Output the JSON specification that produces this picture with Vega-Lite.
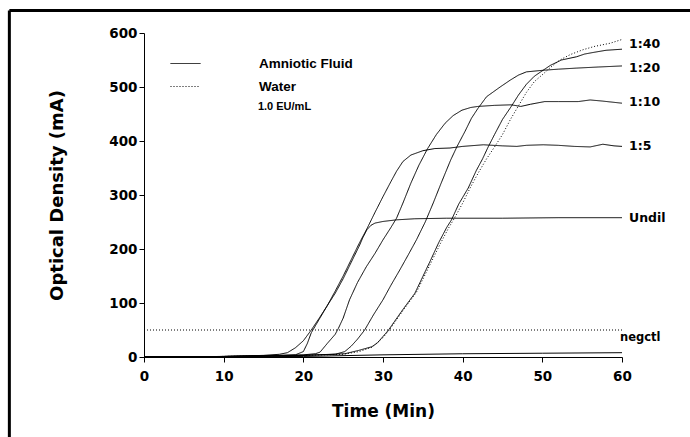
{
  "$schema": "https://vega.github.io/schema/vega-lite/v6.json",
  "width": 478,
  "height": 324,
  "autosize": {"type": "none"},
  "padding": {"left": 144, "top": 33, "right": 68, "bottom": 80},
  "background": "white",
  "config": {
    "view": {"stroke": null},
    "axis": {
      "domainColor": "black",
      "domainWidth": 1,
      "tickColor": "black",
      "tickWidth": 1,
      "labelColor": "black",
      "labelFont": "DejaVu Sans",
      "labelFontWeight": "bold",
      "labelFontSize": 13.5,
      "labelFlush": false,
      "labelOverlap": false,
      "titleColor": "black",
      "titleFont": "DejaVu Sans",
      "titleFontWeight": "bold",
      "titleFontSize": 17,
      "grid": false
    }
  },
  "datasets": {
    "curves": [
      {"curve": "Undil", "sample": "Amniotic Fluid", "t": 0, "v": 0},
      {"curve": "Undil", "sample": "Amniotic Fluid", "t": 10, "v": 1},
      {"curve": "Undil", "sample": "Amniotic Fluid", "t": 15, "v": 3},
      {"curve": "Undil", "sample": "Amniotic Fluid", "t": 17, "v": 5},
      {"curve": "Undil", "sample": "Amniotic Fluid", "t": 18, "v": 8},
      {"curve": "Undil", "sample": "Amniotic Fluid", "t": 19, "v": 17},
      {"curve": "Undil", "sample": "Amniotic Fluid", "t": 20, "v": 30},
      {"curve": "Undil", "sample": "Amniotic Fluid", "t": 21, "v": 50},
      {"curve": "Undil", "sample": "Amniotic Fluid", "t": 22, "v": 72},
      {"curve": "Undil", "sample": "Amniotic Fluid", "t": 23, "v": 95},
      {"curve": "Undil", "sample": "Amniotic Fluid", "t": 24, "v": 118},
      {"curve": "Undil", "sample": "Amniotic Fluid", "t": 25, "v": 145},
      {"curve": "Undil", "sample": "Amniotic Fluid", "t": 26, "v": 175},
      {"curve": "Undil", "sample": "Amniotic Fluid", "t": 27, "v": 205},
      {"curve": "Undil", "sample": "Amniotic Fluid", "t": 27.5, "v": 222},
      {"curve": "Undil", "sample": "Amniotic Fluid", "t": 28, "v": 236},
      {"curve": "Undil", "sample": "Amniotic Fluid", "t": 28.5, "v": 244},
      {"curve": "Undil", "sample": "Amniotic Fluid", "t": 29, "v": 248},
      {"curve": "Undil", "sample": "Amniotic Fluid", "t": 30, "v": 251},
      {"curve": "Undil", "sample": "Amniotic Fluid", "t": 31.7, "v": 254},
      {"curve": "Undil", "sample": "Amniotic Fluid", "t": 34, "v": 256},
      {"curve": "Undil", "sample": "Amniotic Fluid", "t": 38, "v": 257},
      {"curve": "Undil", "sample": "Amniotic Fluid", "t": 45, "v": 257},
      {"curve": "Undil", "sample": "Amniotic Fluid", "t": 52, "v": 258},
      {"curve": "Undil", "sample": "Amniotic Fluid", "t": 60, "v": 258},

      {"curve": "1:5", "sample": "Amniotic Fluid", "t": 0, "v": 0},
      {"curve": "1:5", "sample": "Amniotic Fluid", "t": 10, "v": 1},
      {"curve": "1:5", "sample": "Amniotic Fluid", "t": 15, "v": 2},
      {"curve": "1:5", "sample": "Amniotic Fluid", "t": 19, "v": 4},
      {"curve": "1:5", "sample": "Amniotic Fluid", "t": 20, "v": 10},
      {"curve": "1:5", "sample": "Amniotic Fluid", "t": 20.5, "v": 25},
      {"curve": "1:5", "sample": "Amniotic Fluid", "t": 21, "v": 45},
      {"curve": "1:5", "sample": "Amniotic Fluid", "t": 22, "v": 70},
      {"curve": "1:5", "sample": "Amniotic Fluid", "t": 23, "v": 95},
      {"curve": "1:5", "sample": "Amniotic Fluid", "t": 24, "v": 122},
      {"curve": "1:5", "sample": "Amniotic Fluid", "t": 25, "v": 150},
      {"curve": "1:5", "sample": "Amniotic Fluid", "t": 26, "v": 180},
      {"curve": "1:5", "sample": "Amniotic Fluid", "t": 27, "v": 210},
      {"curve": "1:5", "sample": "Amniotic Fluid", "t": 28, "v": 238},
      {"curve": "1:5", "sample": "Amniotic Fluid", "t": 29, "v": 268},
      {"curve": "1:5", "sample": "Amniotic Fluid", "t": 30, "v": 297},
      {"curve": "1:5", "sample": "Amniotic Fluid", "t": 31, "v": 325},
      {"curve": "1:5", "sample": "Amniotic Fluid", "t": 31.7, "v": 344},
      {"curve": "1:5", "sample": "Amniotic Fluid", "t": 32.5, "v": 362},
      {"curve": "1:5", "sample": "Amniotic Fluid", "t": 33.5, "v": 374},
      {"curve": "1:5", "sample": "Amniotic Fluid", "t": 35, "v": 382},
      {"curve": "1:5", "sample": "Amniotic Fluid", "t": 36.5, "v": 386},
      {"curve": "1:5", "sample": "Amniotic Fluid", "t": 38.4, "v": 387},
      {"curve": "1:5", "sample": "Amniotic Fluid", "t": 40, "v": 390},
      {"curve": "1:5", "sample": "Amniotic Fluid", "t": 42.6, "v": 393},
      {"curve": "1:5", "sample": "Amniotic Fluid", "t": 45, "v": 391},
      {"curve": "1:5", "sample": "Amniotic Fluid", "t": 46.8, "v": 390},
      {"curve": "1:5", "sample": "Amniotic Fluid", "t": 48, "v": 392},
      {"curve": "1:5", "sample": "Amniotic Fluid", "t": 50.1, "v": 393},
      {"curve": "1:5", "sample": "Amniotic Fluid", "t": 52, "v": 392},
      {"curve": "1:5", "sample": "Amniotic Fluid", "t": 54, "v": 390},
      {"curve": "1:5", "sample": "Amniotic Fluid", "t": 56, "v": 389},
      {"curve": "1:5", "sample": "Amniotic Fluid", "t": 57.6, "v": 394},
      {"curve": "1:5", "sample": "Amniotic Fluid", "t": 59, "v": 391},
      {"curve": "1:5", "sample": "Amniotic Fluid", "t": 60, "v": 390},

      {"curve": "1:10", "sample": "Amniotic Fluid", "t": 0, "v": 0},
      {"curve": "1:10", "sample": "Amniotic Fluid", "t": 10, "v": 1},
      {"curve": "1:10", "sample": "Amniotic Fluid", "t": 15, "v": 2},
      {"curve": "1:10", "sample": "Amniotic Fluid", "t": 20, "v": 4},
      {"curve": "1:10", "sample": "Amniotic Fluid", "t": 21.5, "v": 6},
      {"curve": "1:10", "sample": "Amniotic Fluid", "t": 22.1, "v": 9},
      {"curve": "1:10", "sample": "Amniotic Fluid", "t": 23, "v": 25},
      {"curve": "1:10", "sample": "Amniotic Fluid", "t": 24, "v": 42},
      {"curve": "1:10", "sample": "Amniotic Fluid", "t": 24.4, "v": 53},
      {"curve": "1:10", "sample": "Amniotic Fluid", "t": 25, "v": 72},
      {"curve": "1:10", "sample": "Amniotic Fluid", "t": 25.8, "v": 106},
      {"curve": "1:10", "sample": "Amniotic Fluid", "t": 26.8, "v": 138},
      {"curve": "1:10", "sample": "Amniotic Fluid", "t": 27.9, "v": 167},
      {"curve": "1:10", "sample": "Amniotic Fluid", "t": 29, "v": 192},
      {"curve": "1:10", "sample": "Amniotic Fluid", "t": 30, "v": 217},
      {"curve": "1:10", "sample": "Amniotic Fluid", "t": 31, "v": 240},
      {"curve": "1:10", "sample": "Amniotic Fluid", "t": 31.7, "v": 257},
      {"curve": "1:10", "sample": "Amniotic Fluid", "t": 32.5, "v": 285},
      {"curve": "1:10", "sample": "Amniotic Fluid", "t": 33.5, "v": 322},
      {"curve": "1:10", "sample": "Amniotic Fluid", "t": 34.5, "v": 355},
      {"curve": "1:10", "sample": "Amniotic Fluid", "t": 35.6, "v": 386},
      {"curve": "1:10", "sample": "Amniotic Fluid", "t": 36.7, "v": 412},
      {"curve": "1:10", "sample": "Amniotic Fluid", "t": 37.8, "v": 433},
      {"curve": "1:10", "sample": "Amniotic Fluid", "t": 38.8, "v": 447},
      {"curve": "1:10", "sample": "Amniotic Fluid", "t": 39.9, "v": 457},
      {"curve": "1:10", "sample": "Amniotic Fluid", "t": 41, "v": 462},
      {"curve": "1:10", "sample": "Amniotic Fluid", "t": 41.9, "v": 464},
      {"curve": "1:10", "sample": "Amniotic Fluid", "t": 44, "v": 466},
      {"curve": "1:10", "sample": "Amniotic Fluid", "t": 46.1, "v": 467},
      {"curve": "1:10", "sample": "Amniotic Fluid", "t": 47.3, "v": 464},
      {"curve": "1:10", "sample": "Amniotic Fluid", "t": 48.5, "v": 468},
      {"curve": "1:10", "sample": "Amniotic Fluid", "t": 50.3, "v": 473},
      {"curve": "1:10", "sample": "Amniotic Fluid", "t": 52, "v": 473},
      {"curve": "1:10", "sample": "Amniotic Fluid", "t": 54.5, "v": 473},
      {"curve": "1:10", "sample": "Amniotic Fluid", "t": 56, "v": 476},
      {"curve": "1:10", "sample": "Amniotic Fluid", "t": 57.5, "v": 474},
      {"curve": "1:10", "sample": "Amniotic Fluid", "t": 60, "v": 470},

      {"curve": "1:20", "sample": "Amniotic Fluid", "t": 0, "v": 0},
      {"curve": "1:20", "sample": "Amniotic Fluid", "t": 10, "v": 1},
      {"curve": "1:20", "sample": "Amniotic Fluid", "t": 15, "v": 2},
      {"curve": "1:20", "sample": "Amniotic Fluid", "t": 20, "v": 3},
      {"curve": "1:20", "sample": "Amniotic Fluid", "t": 24, "v": 5},
      {"curve": "1:20", "sample": "Amniotic Fluid", "t": 25.2, "v": 10},
      {"curve": "1:20", "sample": "Amniotic Fluid", "t": 26, "v": 20},
      {"curve": "1:20", "sample": "Amniotic Fluid", "t": 26.8, "v": 33},
      {"curve": "1:20", "sample": "Amniotic Fluid", "t": 27.7, "v": 50},
      {"curve": "1:20", "sample": "Amniotic Fluid", "t": 28.8, "v": 78},
      {"curve": "1:20", "sample": "Amniotic Fluid", "t": 30, "v": 106},
      {"curve": "1:20", "sample": "Amniotic Fluid", "t": 31, "v": 133},
      {"curve": "1:20", "sample": "Amniotic Fluid", "t": 32.1, "v": 161},
      {"curve": "1:20", "sample": "Amniotic Fluid", "t": 33.2, "v": 190},
      {"curve": "1:20", "sample": "Amniotic Fluid", "t": 34.2, "v": 217},
      {"curve": "1:20", "sample": "Amniotic Fluid", "t": 35.3, "v": 250},
      {"curve": "1:20", "sample": "Amniotic Fluid", "t": 36.3, "v": 285},
      {"curve": "1:20", "sample": "Amniotic Fluid", "t": 37.3, "v": 322},
      {"curve": "1:20", "sample": "Amniotic Fluid", "t": 38.5, "v": 365},
      {"curve": "1:20", "sample": "Amniotic Fluid", "t": 39.3, "v": 390},
      {"curve": "1:20", "sample": "Amniotic Fluid", "t": 40.3, "v": 418},
      {"curve": "1:20", "sample": "Amniotic Fluid", "t": 41.1, "v": 442},
      {"curve": "1:20", "sample": "Amniotic Fluid", "t": 41.9, "v": 460},
      {"curve": "1:20", "sample": "Amniotic Fluid", "t": 43, "v": 482},
      {"curve": "1:20", "sample": "Amniotic Fluid", "t": 44.7, "v": 500},
      {"curve": "1:20", "sample": "Amniotic Fluid", "t": 46, "v": 513},
      {"curve": "1:20", "sample": "Amniotic Fluid", "t": 47, "v": 522},
      {"curve": "1:20", "sample": "Amniotic Fluid", "t": 48, "v": 528},
      {"curve": "1:20", "sample": "Amniotic Fluid", "t": 50.1, "v": 531},
      {"curve": "1:20", "sample": "Amniotic Fluid", "t": 52, "v": 533},
      {"curve": "1:20", "sample": "Amniotic Fluid", "t": 54.3, "v": 535},
      {"curve": "1:20", "sample": "Amniotic Fluid", "t": 57, "v": 537},
      {"curve": "1:20", "sample": "Amniotic Fluid", "t": 60, "v": 539},

      {"curve": "1:40", "sample": "Amniotic Fluid", "t": 0, "v": 0},
      {"curve": "1:40", "sample": "Amniotic Fluid", "t": 10, "v": 1},
      {"curve": "1:40", "sample": "Amniotic Fluid", "t": 15, "v": 2},
      {"curve": "1:40", "sample": "Amniotic Fluid", "t": 20, "v": 3},
      {"curve": "1:40", "sample": "Amniotic Fluid", "t": 25.2, "v": 6},
      {"curve": "1:40", "sample": "Amniotic Fluid", "t": 26.9, "v": 12},
      {"curve": "1:40", "sample": "Amniotic Fluid", "t": 28.6, "v": 19},
      {"curve": "1:40", "sample": "Amniotic Fluid", "t": 29.3, "v": 26},
      {"curve": "1:40", "sample": "Amniotic Fluid", "t": 30, "v": 38},
      {"curve": "1:40", "sample": "Amniotic Fluid", "t": 30.7, "v": 50},
      {"curve": "1:40", "sample": "Amniotic Fluid", "t": 31.5, "v": 67},
      {"curve": "1:40", "sample": "Amniotic Fluid", "t": 32.5, "v": 88},
      {"curve": "1:40", "sample": "Amniotic Fluid", "t": 33.4, "v": 106},
      {"curve": "1:40", "sample": "Amniotic Fluid", "t": 34, "v": 118},
      {"curve": "1:40", "sample": "Amniotic Fluid", "t": 35, "v": 149},
      {"curve": "1:40", "sample": "Amniotic Fluid", "t": 36, "v": 180},
      {"curve": "1:40", "sample": "Amniotic Fluid", "t": 37, "v": 212},
      {"curve": "1:40", "sample": "Amniotic Fluid", "t": 38, "v": 240},
      {"curve": "1:40", "sample": "Amniotic Fluid", "t": 38.6, "v": 254},
      {"curve": "1:40", "sample": "Amniotic Fluid", "t": 39.5, "v": 283},
      {"curve": "1:40", "sample": "Amniotic Fluid", "t": 40.7, "v": 313},
      {"curve": "1:40", "sample": "Amniotic Fluid", "t": 41.7, "v": 345},
      {"curve": "1:40", "sample": "Amniotic Fluid", "t": 42.5, "v": 367},
      {"curve": "1:40", "sample": "Amniotic Fluid", "t": 43.2, "v": 389},
      {"curve": "1:40", "sample": "Amniotic Fluid", "t": 44, "v": 412},
      {"curve": "1:40", "sample": "Amniotic Fluid", "t": 45, "v": 440},
      {"curve": "1:40", "sample": "Amniotic Fluid", "t": 46.1, "v": 464},
      {"curve": "1:40", "sample": "Amniotic Fluid", "t": 47, "v": 485},
      {"curve": "1:40", "sample": "Amniotic Fluid", "t": 48, "v": 505},
      {"curve": "1:40", "sample": "Amniotic Fluid", "t": 49, "v": 520},
      {"curve": "1:40", "sample": "Amniotic Fluid", "t": 50.1, "v": 531},
      {"curve": "1:40", "sample": "Amniotic Fluid", "t": 51, "v": 540},
      {"curve": "1:40", "sample": "Amniotic Fluid", "t": 52.4, "v": 550},
      {"curve": "1:40", "sample": "Amniotic Fluid", "t": 54.3, "v": 556},
      {"curve": "1:40", "sample": "Amniotic Fluid", "t": 55.3, "v": 561},
      {"curve": "1:40", "sample": "Amniotic Fluid", "t": 56.4, "v": 564},
      {"curve": "1:40", "sample": "Amniotic Fluid", "t": 58, "v": 568},
      {"curve": "1:40", "sample": "Amniotic Fluid", "t": 60, "v": 570},

      {"curve": "negctl", "sample": "Amniotic Fluid", "t": 0, "v": 0},
      {"curve": "negctl", "sample": "Amniotic Fluid", "t": 20, "v": 1},
      {"curve": "negctl", "sample": "Amniotic Fluid", "t": 30, "v": 4},
      {"curve": "negctl", "sample": "Amniotic Fluid", "t": 40, "v": 6},
      {"curve": "negctl", "sample": "Amniotic Fluid", "t": 50, "v": 7},
      {"curve": "negctl", "sample": "Amniotic Fluid", "t": 60, "v": 8},

      {"curve": "W 1:40", "sample": "Water", "t": 0, "v": 0},
      {"curve": "W 1:40", "sample": "Water", "t": 10, "v": 1},
      {"curve": "W 1:40", "sample": "Water", "t": 15, "v": 2},
      {"curve": "W 1:40", "sample": "Water", "t": 20, "v": 3},
      {"curve": "W 1:40", "sample": "Water", "t": 25, "v": 5},
      {"curve": "W 1:40", "sample": "Water", "t": 27, "v": 10},
      {"curve": "W 1:40", "sample": "Water", "t": 28.6, "v": 18},
      {"curve": "W 1:40", "sample": "Water", "t": 30, "v": 36},
      {"curve": "W 1:40", "sample": "Water", "t": 30.8, "v": 50},
      {"curve": "W 1:40", "sample": "Water", "t": 31.6, "v": 67},
      {"curve": "W 1:40", "sample": "Water", "t": 32.6, "v": 88},
      {"curve": "W 1:40", "sample": "Water", "t": 33.5, "v": 106},
      {"curve": "W 1:40", "sample": "Water", "t": 34.2, "v": 120},
      {"curve": "W 1:40", "sample": "Water", "t": 35.2, "v": 150},
      {"curve": "W 1:40", "sample": "Water", "t": 36.2, "v": 180},
      {"curve": "W 1:40", "sample": "Water", "t": 37.2, "v": 210},
      {"curve": "W 1:40", "sample": "Water", "t": 38.2, "v": 238},
      {"curve": "W 1:40", "sample": "Water", "t": 39, "v": 258},
      {"curve": "W 1:40", "sample": "Water", "t": 40, "v": 285},
      {"curve": "W 1:40", "sample": "Water", "t": 41, "v": 315},
      {"curve": "W 1:40", "sample": "Water", "t": 42, "v": 342},
      {"curve": "W 1:40", "sample": "Water", "t": 43, "v": 367},
      {"curve": "W 1:40", "sample": "Water", "t": 44, "v": 389},
      {"curve": "W 1:40", "sample": "Water", "t": 45, "v": 412},
      {"curve": "W 1:40", "sample": "Water", "t": 46, "v": 440},
      {"curve": "W 1:40", "sample": "Water", "t": 46.8, "v": 460},
      {"curve": "W 1:40", "sample": "Water", "t": 48, "v": 490},
      {"curve": "W 1:40", "sample": "Water", "t": 49, "v": 510},
      {"curve": "W 1:40", "sample": "Water", "t": 50.1, "v": 524},
      {"curve": "W 1:40", "sample": "Water", "t": 51, "v": 536},
      {"curve": "W 1:40", "sample": "Water", "t": 52.2, "v": 550},
      {"curve": "W 1:40", "sample": "Water", "t": 53.5, "v": 560},
      {"curve": "W 1:40", "sample": "Water", "t": 55.1, "v": 569},
      {"curve": "W 1:40", "sample": "Water", "t": 56.5, "v": 575},
      {"curve": "W 1:40", "sample": "Water", "t": 58.5, "v": 581},
      {"curve": "W 1:40", "sample": "Water", "t": 60, "v": 588},

      {"curve": "W negctl", "sample": "Water", "t": 0, "v": 50},
      {"curve": "W negctl", "sample": "Water", "t": 60, "v": 50}
    ],
    "labels": [
      {"label": "1:40", "t": 60, "v": 580},
      {"label": "1:20", "t": 60, "v": 535},
      {"label": "1:10", "t": 60, "v": 472},
      {"label": "1:5", "t": 60, "v": 391},
      {"label": "Undil", "t": 60, "v": 257}
    ],
    "notes": [
      {"label": "negctl", "t": 60, "v": 35}
    ],
    "conc": [
      {"label": "1.0 EU/mL", "t": 14.3, "v": 463}
    ],
    "frame": [{}]
  },
  "layer": [
    {
      "data": {"name": "curves"},
      "mark": {"type": "line", "color": "black", "strokeWidth": 1, "clip": false},
      "encoding": {
        "x": {
          "field": "t",
          "type": "quantitative",
          "scale": {"domain": [0, 60], "nice": false, "zero": false},
          "axis": {
            "title": "Time (Min)",
            "values": [0, 5, 10, 15, 20, 25, 30, 35, 40, 45, 50, 55, 60],
            "labelExpr": "datum.value % 10 === 0 ? datum.label : ''",
            "tickSize": {"condition": {"test": "datum.value % 10 === 0", "value": 5}, "value": 3},
            "labelPadding": 7,
            "titlePadding": 21
          }
        },
        "y": {
          "field": "v",
          "type": "quantitative",
          "scale": {"domain": [0, 600], "nice": false, "zero": false},
          "axis": {
            "title": "Optical Density (mA)",
            "values": [0, 50, 100, 150, 200, 250, 300, 350, 400, 450, 500, 550, 600],
            "labelExpr": "datum.value % 100 === 0 ? datum.label : ''",
            "tickSize": {"condition": {"test": "datum.value % 100 === 0", "value": 5}, "value": 3},
            "labelPadding": 2,
            "titlePadding": 42,
            "titleFontSize": 18
          }
        },
        "detail": {"field": "curve", "type": "nominal"},
        "strokeDash": {
          "field": "sample",
          "type": "nominal",
          "scale": {"domain": ["Amniotic Fluid", "Water"], "range": [[1, 0], [1, 2]]},
          "legend": {
            "title": null,
            "orient": "none",
            "legendX": 26,
            "legendY": 15,
            "padding": 0,
            "symbolType": "stroke",
            "symbolSize": 900,
            "symbolStrokeWidth": 1,
            "symbolStrokeColor": "black",
            "labelOffset": 58,
            "labelFont": "Liberation Sans",
            "labelFontWeight": "bold",
            "labelFontSize": 13.5,
            "labelColor": "black",
            "rowPadding": 1
          }
        }
      }
    },
    {
      "data": {"name": "labels"},
      "mark": {"type": "text", "align": "left", "baseline": "middle", "dx": 7, "font": "DejaVu Sans", "fontWeight": "bold", "fontSize": 12.5, "color": "black"},
      "encoding": {
        "x": {"field": "t", "type": "quantitative"},
        "y": {"field": "v", "type": "quantitative"},
        "text": {"field": "label"}
      }
    },
    {
      "data": {"name": "notes"},
      "mark": {"type": "text", "align": "left", "baseline": "middle", "dx": -2, "font": "DejaVu Sans", "fontWeight": "bold", "fontSize": 11.5, "color": "black"},
      "encoding": {
        "x": {"field": "t", "type": "quantitative"},
        "y": {"field": "v", "type": "quantitative"},
        "text": {"field": "label"}
      }
    },
    {
      "data": {"name": "conc"},
      "mark": {"type": "text", "align": "left", "baseline": "middle", "font": "Liberation Sans", "fontWeight": "bold", "fontSize": 11, "color": "black"},
      "encoding": {
        "x": {"field": "t", "type": "quantitative"},
        "y": {"field": "v", "type": "quantitative"},
        "text": {"field": "label"}
      }
    },
    {
      "data": {"name": "frame"},
      "mark": {"type": "rule", "color": "black", "strokeWidth": 3, "clip": false},
      "encoding": {
        "x": {"datum": -16.9},
        "y": {"datum": 641.7},
        "y2": {"datum": -150}
      }
    },
    {
      "data": {"name": "frame"},
      "mark": {"type": "rule", "color": "black", "strokeWidth": 3, "clip": false},
      "encoding": {
        "x": {"datum": -16.9},
        "x2": {"datum": 69},
        "y": {"datum": 641.7}
      }
    }
  ]
}
